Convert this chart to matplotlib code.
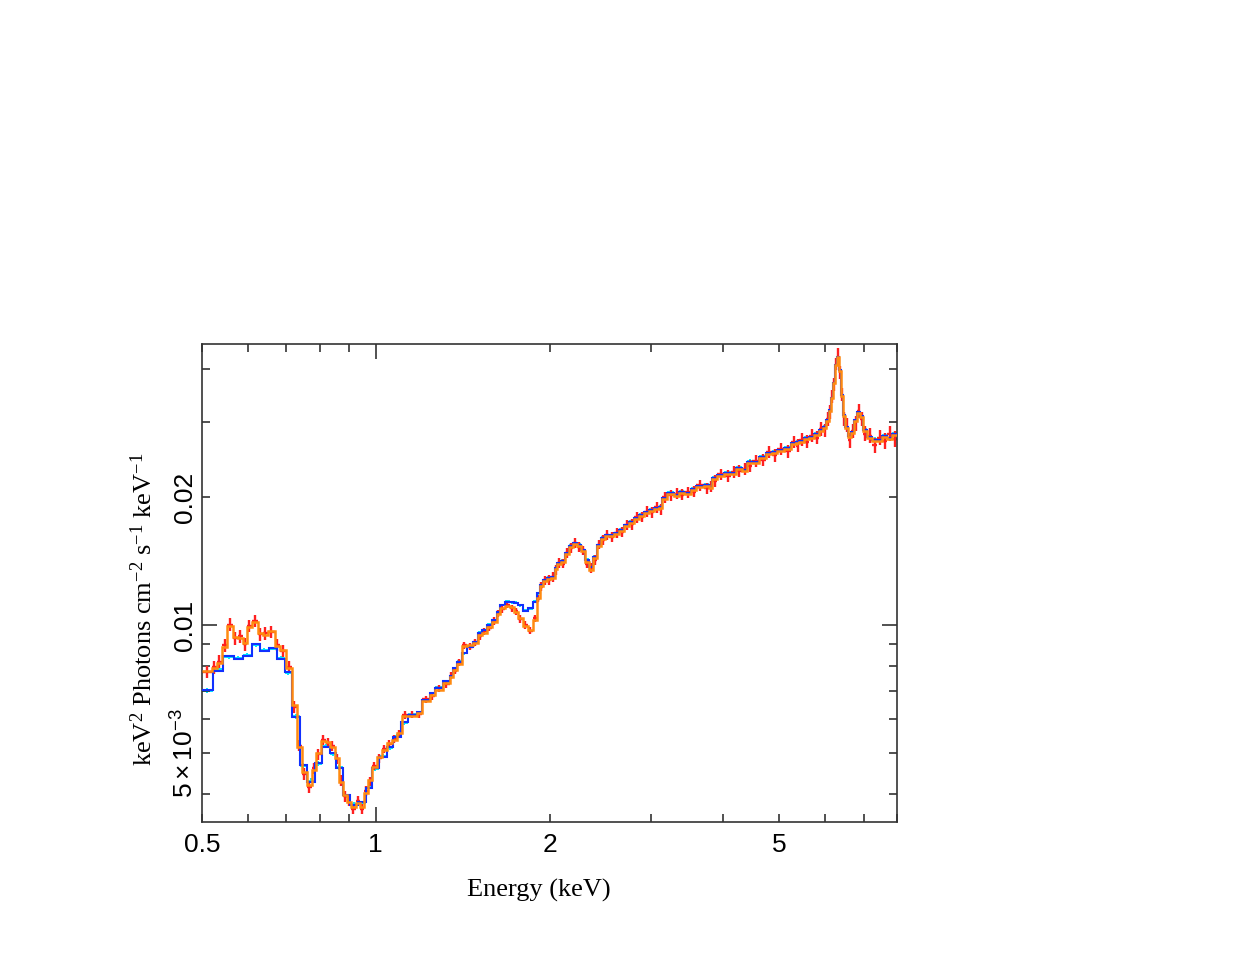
import matplotlib
matplotlib.use("Agg")
import matplotlib.pyplot as plt
import numpy as np
from matplotlib.ticker import FixedLocator, FixedFormatter

plt.rcParams['mathtext.fontset'] = 'custom'
plt.rcParams['mathtext.rm'] = 'Liberation Serif'
plt.rcParams['mathtext.it'] = 'Liberation Serif:italic'
plt.rcParams['mathtext.sf'] = 'Liberation Sans'

# ---------------- data (flux in units of 1e-3 keV^2 ph cm^-2 s^-1 keV^-1) -------------
# dataset 1, low-energy binning
lo1_edges = [0.500, 0.5218, 0.5443, 0.5680, 0.5887, 0.6102, 0.6300, 0.6530, 0.6741, 0.6959,
             0.7156, 0.7388, 0.7597, 0.7843, 0.8065, 0.8326, 0.8527, 0.8768, 0.9016, 0.9308,
             0.9610, 0.9842, 1.0120, 1.0448, 1.0701, 1.1047, 1.1360]
lo1_model = [7.03, 7.81, 8.45, 8.32, 8.45, 9.02, 8.69, 8.83, 8.32, 7.75, 6.07, 4.68, 4.27,
             4.74, 5.16, 5.00, 4.61, 3.98, 3.77, 3.83, 4.14, 4.61, 4.89, 5.16, 5.45, 5.91]
lo1_data = [7.00, 7.86, 8.40, 8.36, 8.50, 8.98, 8.72, 8.80, 8.36, 7.70, 6.10, 4.66, 4.30,
            4.72, 5.19, 4.97, 4.63, 3.96, 3.79, 3.81, 4.16, 4.58, 4.92, 5.13, 5.48, 5.88]
lo1_err = [0.10, 0.09, 0.09, 0.09, 0.09, 0.10, 0.09, 0.09, 0.09, 0.09, 0.08, 0.07, 0.06,
           0.06, 0.06, 0.06, 0.06, 0.05, 0.05, 0.05, 0.05, 0.05, 0.05, 0.06, 0.06, 0.06]

# dataset 2, low-energy binning
lo2_edges = [0.5000, 0.5197, 0.5302, 0.5421, 0.5524, 0.5657, 0.5771, 0.5887, 0.5982, 0.6102,
             0.6250, 0.6375, 0.6504, 0.6688, 0.6822, 0.6987, 0.7156, 0.7300, 0.7447, 0.7597,
             0.7750, 0.7874, 0.8033, 0.8194, 0.8326, 0.8493, 0.8630, 0.8768, 0.8909, 0.9052,
             0.9234, 0.9383, 0.9533, 0.9687, 0.9842, 1.0040, 1.0242, 1.0448, 1.0657, 1.0872,
             1.1091, 1.1360]
lo2_model = [7.79, 7.92, 8.14, 8.88, 9.95, 9.37, 9.32, 9.07, 9.89, 10.16, 9.58, 9.47, 9.68,
             8.93, 8.73, 7.92, 6.48, 5.16, 4.51, 4.20, 4.56, 5.00, 5.33, 5.31, 5.16, 4.87,
             4.27, 3.98, 3.83, 3.73, 3.81, 3.73, 4.03, 4.32, 4.63, 4.89, 5.08, 5.28, 5.36,
             5.57, 6.11]
lo2_data = [7.75, 7.95, 8.20, 8.95, 10.02, 9.30, 9.40, 9.00, 9.95, 10.22, 9.52, 9.55, 9.62,
            8.98, 8.68, 7.98, 6.42, 5.20, 4.47, 4.16, 4.60, 4.96, 5.37, 5.27, 5.20, 4.83,
            4.31, 3.95, 3.86, 3.70, 3.85, 3.69, 4.07, 4.29, 4.66, 4.86, 5.11, 5.25, 5.39,
            5.54, 6.14]
lo2_err = [0.25, 0.28, 0.28, 0.30, 0.35, 0.33, 0.33, 0.32, 0.34, 0.35, 0.33, 0.32, 0.32,
           0.30, 0.28, 0.25, 0.20, 0.16, 0.14, 0.13, 0.13, 0.14, 0.14, 0.14, 0.14, 0.13,
           0.12, 0.11, 0.11, 0.10, 0.10, 0.10, 0.11, 0.11, 0.11, 0.12, 0.12, 0.12, 0.12,
           0.13, 0.14]

# shared binning above 1.136 keV
hi_edges = [1.1360, 1.1774, 1.2011, 1.2400, 1.2650, 1.3059, 1.3429, 1.3590, 1.3808, 1.4086,
            1.4370, 1.4717, 1.5013, 1.5254, 1.5561, 1.5874, 1.6194, 1.6388, 1.6718, 1.7054,
            1.7328, 1.7607, 1.7961, 1.8322, 1.8691, 1.8991, 1.9219, 1.9451, 1.9763, 2.0080,
            2.0403, 2.0648, 2.0980, 2.1317, 2.1659, 2.2007, 2.2361, 2.2720, 2.3085, 2.3456,
            2.3832, 2.4215, 2.4604, 2.4999, 2.5401, 2.5912, 2.6433, 2.6965, 2.7507, 2.8061,
            2.8625, 2.9202, 2.9788, 3.0388, 3.0999, 3.1372, 3.2003, 3.2908, 3.3570, 3.4246,
            3.5214, 3.5922, 3.7086, 3.7831, 3.8287, 3.9057, 4.0162, 4.1297, 4.2128, 4.3147,
            4.4015, 4.4901, 4.6170, 4.7476, 4.8624, 4.9603, 5.1006, 5.2448, 5.3503, 5.4146,
            5.5236, 5.6346, 5.7480, 5.8636, 5.9578, 6.0295, 6.1019, 6.1508, 6.2000, 6.2496,
            6.2996, 6.3500, 6.4007, 6.4519, 6.5036, 6.5818, 6.6609, 6.7410, 6.8220, 6.9039,
            6.9870, 7.0993, 7.2421, 7.3878, 7.5364, 7.6881, 7.8427, 8.0000]
hi_model1 = [6.14, 6.24, 6.66, 6.92, 7.11, 7.38, 7.59, 7.92, 8.19, 8.59, 8.88, 9.12, 9.58,
             9.73, 10.00, 10.27,
             10.73, 11.14, 11.33, 11.33, 11.26, 11.14, 10.79, 10.96, 11.33, 11.89,
             12.42, 12.76, 12.90, 12.97, 13.62, 13.99, 14.14, 14.77, 15.34, 15.59, 15.43,
             15.02, 14.22, 13.69, 14.45, 15.43, 16.02, 16.28, 16.28, 16.46, 16.73, 17.19,
             17.47, 17.86, 18.15, 18.45, 18.65, 18.85, 18.96, 19.90,
             20.45, 20.23, 20.56, 20.45, 20.89, 21.24, 21.35, 21.12, 22.17, 22.54, 22.79,
             22.79, 23.41, 23.16, 24.18, 24.18, 24.85, 25.40, 25.54, 25.81, 26.09, 26.81,
             26.96, 27.10, 27.54, 27.69, 28.15, 28.76, 29.23, 30.36,
             32.05, 34.20, 37.10, 40.90, 42.73, 39.81, 34.77, 31.20, 29.23, 27.84, 28.45,
             30.36, 31.71, 31.03, 28.76, 27.69, 27.25, 27.25, 27.84, 27.54, 28.15]
hi_data1 = [6.16, 6.22, 6.69, 6.90, 7.14, 7.36, 7.62, 7.90, 8.22, 8.57, 8.91, 9.10, 9.61,
            9.70, 10.03, 10.25,
            10.76, 11.12, 11.36, 11.30, 11.29, 11.12, 10.82, 10.93, 11.36, 11.86,
            12.45, 12.73, 12.94, 12.94, 13.66, 13.96, 14.18, 14.74, 15.38, 15.55, 15.47,
            14.98, 14.26, 13.66, 14.49, 15.40, 16.06, 16.24, 16.32, 16.42, 16.78, 17.15,
            17.52, 17.82, 18.20, 18.40, 18.70, 18.80, 19.01, 19.85,
            20.51, 20.18, 20.62, 20.40, 20.95, 21.18, 21.42, 21.06, 22.24, 22.48, 22.86,
            22.72, 23.48, 23.10, 24.26, 24.12, 24.93, 25.33, 25.62, 25.74, 26.17, 26.73,
            27.05, 27.02, 27.62, 27.60, 28.24, 28.68, 29.32, 30.28,
            32.15, 34.10, 37.22, 40.78, 42.85, 39.70, 34.88, 31.10, 29.32, 27.75, 28.54,
            30.26, 31.82, 30.94, 28.85, 27.60, 27.36, 27.15, 27.95, 27.45, 28.25]
hi_err1 = [0.06, 0.06, 0.06, 0.06, 0.07, 0.07, 0.07, 0.07, 0.08, 0.08, 0.08, 0.08, 0.09,
           0.09, 0.09, 0.09,
           0.09, 0.10, 0.10, 0.10, 0.10, 0.10, 0.10, 0.10, 0.10, 0.11,
           0.11, 0.11, 0.12, 0.12, 0.12, 0.13, 0.13, 0.13, 0.14, 0.14, 0.14, 0.14, 0.13,
           0.13, 0.13, 0.14, 0.15, 0.15, 0.15, 0.15, 0.16, 0.16, 0.16, 0.17, 0.17, 0.17,
           0.18, 0.18, 0.18, 0.19,
           0.19, 0.19, 0.20, 0.20, 0.20, 0.21, 0.21, 0.21, 0.22, 0.22, 0.23, 0.23, 0.24,
           0.24, 0.25, 0.25, 0.26, 0.26, 0.27, 0.27, 0.28, 0.28, 0.29, 0.29, 0.30, 0.30,
           0.31, 0.31, 0.32, 0.33,
           0.35, 0.37, 0.40, 0.44, 0.46, 0.43, 0.38, 0.34, 0.32, 0.31, 0.31, 0.33, 0.34,
           0.33, 0.32, 0.31, 0.31, 0.31, 0.32, 0.32, 0.33]
hi_model2 = [6.10, 6.20, 6.62, 6.85, 7.05, 7.30, 7.55, 7.85, 8.10, 8.90, 8.95, 9.05, 9.45,
             9.60, 9.90, 10.15,
             10.60, 10.95, 11.10, 11.00, 10.73, 10.38, 9.95, 9.72, 10.30, 11.60,
             12.35, 12.68, 12.85, 12.90, 13.55, 13.90, 14.05, 14.70, 15.25, 15.50, 15.35,
             14.90, 14.05, 13.50, 14.35, 15.35, 15.95, 16.20, 16.20, 16.38, 16.65, 17.10,
             17.38, 17.78, 18.05, 18.35, 18.55, 18.75, 18.88, 19.80,
             20.35, 20.15, 20.45, 20.35, 20.78, 21.12, 21.22, 21.00, 22.05, 22.40, 22.65,
             22.65, 23.28, 23.02, 24.02, 24.05, 24.70, 25.25, 25.40, 25.65, 25.95, 26.65,
             26.80, 26.95, 27.38, 27.52, 28.00, 28.60, 29.10, 30.20,
             31.90, 34.10, 37.00, 40.80, 42.60, 39.60, 34.60, 31.05, 29.10, 27.70, 28.30,
             30.20, 31.55, 30.90, 28.60, 27.55, 27.10, 27.10, 27.70, 27.40, 28.00]
hi_data2 = [6.15, 6.16, 6.68, 6.80, 7.10, 7.26, 7.60, 7.80, 8.16, 8.95, 8.88, 9.10, 9.40,
            9.66, 9.85, 10.22,
            10.66, 10.90, 11.16, 10.95, 10.78, 10.33, 10.00, 9.70, 10.36, 11.52,
            12.30, 12.75, 12.78, 12.98, 13.48, 13.98, 13.95, 14.80, 15.18, 15.62, 15.25,
            14.98, 13.95, 13.60, 14.25, 15.45, 15.85, 16.32, 16.10, 16.48, 16.55, 17.22,
            17.25, 17.90, 17.95, 18.48, 18.40, 18.90, 18.70, 19.95,
            20.20, 20.35, 20.25, 20.55, 20.60, 21.30, 20.95, 21.20, 21.80, 22.60, 22.40,
            22.90, 23.05, 23.30, 23.70, 24.30, 24.40, 25.50, 25.05, 25.90, 25.60, 26.95,
            26.40, 27.30, 27.00, 27.90, 27.60, 28.90, 28.70, 30.50,
            31.70, 34.50, 36.80, 41.20, 43.30, 39.20, 34.90, 30.60, 29.50, 27.20, 28.60,
            29.80, 31.90, 30.50, 28.20, 27.90, 26.50, 27.60, 27.10, 28.20, 27.40]
hi_err2 = [0.12, 0.13, 0.13, 0.13, 0.14, 0.14, 0.15, 0.15, 0.16, 0.17, 0.17, 0.18, 0.18,
           0.19, 0.19, 0.20,
           0.20, 0.21, 0.21, 0.21, 0.21, 0.20, 0.19, 0.19, 0.20, 0.22,
           0.31, 0.32, 0.33, 0.33, 0.35, 0.36, 0.37, 0.39, 0.40, 0.41, 0.41, 0.39, 0.37,
           0.36, 0.38, 0.40, 0.43, 0.44, 0.44, 0.45, 0.46, 0.47, 0.48, 0.49, 0.50, 0.52,
           0.53, 0.54, 0.55, 0.57,
           0.60, 0.60, 0.61, 0.61, 0.62, 0.65, 0.65, 0.65, 0.69, 0.70, 0.71, 0.72, 0.74,
           0.74, 0.78, 0.78, 0.80, 0.83, 0.85, 0.86, 0.88, 0.91, 0.92, 0.94, 0.96, 0.98,
           1.00, 1.04, 1.07, 1.12,
           1.17, 1.24, 1.30, 1.37, 1.43, 1.37, 1.27, 1.17, 1.10, 1.07, 1.09, 1.14, 1.17,
           1.17, 1.12, 1.10, 1.10, 1.12, 1.14, 1.17, 1.20]

x_major = [1.0]
x_minor = [0.5, 0.6, 0.7, 0.8, 0.9, 2, 3, 4, 5, 6, 7, 8]
x_minor_labels = ['0.5', '', '', '', '', '2', '', '', '5', '', '', '']
y_major = [0.01]
y_minor = [0.004, 0.005, 0.006, 0.007, 0.008, 0.009, 0.02, 0.03, 0.04]
y_minor_labels = ['', r'$\mathsf{5\times10^{-3}}$', '', '', '', '', '0.02', '', '']

# ---------------- assemble ----------------
scale = 1e-3
edges1 = np.array(lo1_edges + hi_edges[1:])
model1 = np.array(lo1_model + hi_model1) * scale
data1 = np.array(lo1_data + hi_data1) * scale
err1 = np.array(lo1_err + hi_err1) * scale
edges2 = np.array(lo2_edges + hi_edges[1:])
model2 = np.array(lo2_model + hi_model2) * scale
data2 = np.array(lo2_data + hi_data2) * scale
err2 = np.array(lo2_err + hi_err2) * scale


def centers(e):
    c = np.sqrt(e[:-1] * e[1:])
    return c, np.vstack([c - e[:-1], e[1:] - c])


W, H = 1246, 963
fig = plt.figure(figsize=(W / 100, H / 100), dpi=100)
ax = fig.add_axes([202 / W, 1 - 822 / H, 695 / W, 478 / H])
ax.set_xscale('log')
ax.set_yscale('log')

c1, xe1 = centers(edges1)
c2, xe2 = centers(edges2)
ax.errorbar(c1, data1, yerr=err1, xerr=xe1, fmt='none', ecolor='#00e5ff',
            elinewidth=1.4, capsize=0, zorder=1)
ax.errorbar(c2, data2, yerr=err2, xerr=xe2, fmt='none', ecolor='#ff2020',
            elinewidth=1.7, capsize=0, zorder=2)
ax.stairs(model1, edges1, baseline=None, color='#1030ff', lw=1.5, zorder=3)
ax.stairs(model2, edges2, baseline=None, color='#ff8a10', lw=1.8, zorder=4)

ax.set_xlim(0.5, 8.0)
ax.set_ylim(3.44e-3, 45.8e-3)

ax.xaxis.set_major_locator(FixedLocator(x_major))
ax.xaxis.set_major_formatter(FixedFormatter(['1']))
ax.xaxis.set_minor_locator(FixedLocator(x_minor))
ax.xaxis.set_minor_formatter(FixedFormatter(x_minor_labels))
ax.yaxis.set_major_locator(FixedLocator(y_major))
ax.yaxis.set_major_formatter(FixedFormatter(['0.01']))
ax.yaxis.set_minor_locator(FixedLocator(y_minor))
ax.yaxis.set_minor_formatter(FixedFormatter(y_minor_labels))

ax.tick_params(which='both', direction='in', top=True, right=True, color='#333333',
               labelsize=19, labelfontfamily='Liberation Sans', width=1.2)
ax.tick_params(which='major', length=11)
ax.tick_params(which='minor', length=6)
ax.tick_params(axis='x', which='both', pad=8)
ax.tick_params(axis='y', which='both', pad=12)
for lbl in ax.get_yticklabels(which='both'):
    lbl.set_rotation(90)
    lbl.set_va('center')
    lbl.set_ha('center')
for s in ax.spines.values():
    s.set_linewidth(1.2)
    s.set_color('#333333')

fig.text(539 / W, 1 - 890 / H, 'Energy (keV)', family='Liberation Serif', fontsize=19,
         ha='center', va='center')
fig.text(144 / W, 1 - 609 / H, r'keV$^{2}$ Photons cm$^{-2}$ s$^{-1}$ keV$^{-1}$',
         family='Liberation Serif', fontsize=19, rotation=90, ha='center', va='center')

fig.savefig('out.png', dpi=100)
